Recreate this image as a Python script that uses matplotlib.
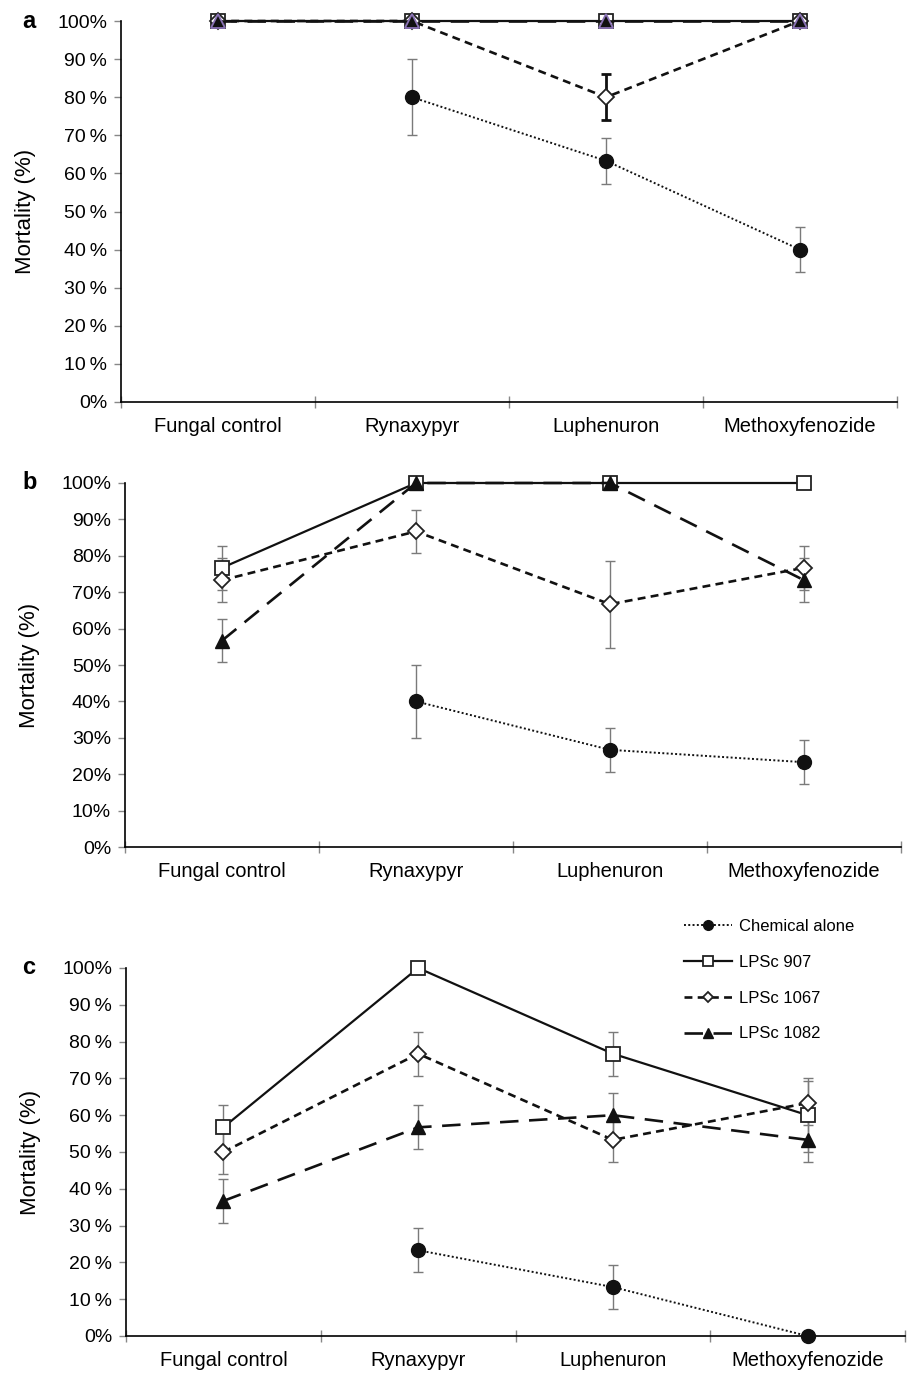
import matplotlib
matplotlib.use("Agg")
import matplotlib.pyplot as plt
import numpy as np

plt.rcParams['font.family'] = ['Liberation Sans', 'DejaVu Sans']

categorias = ['Fungal control', 'Rynaxypyr', 'Luphenuron', 'Methoxyfenozide']
series = ['Chemical alone', 'LPSc 907', 'LPSc 1067', 'LPSc 1082']
nan = np.nan

# Panel a (mortalidad %, error %)
a_chem = [nan, 80, 63.3, 40]
a_chem_err = [0, 10, 6, 6]
a_907 = [100, 100, 100, 100]
a_907_err = [0, 0, 0, 0]
a_1067 = [100, 100, 80, 100]
a_1067_err = [0, 0, 6, 0]
a_1082 = [100, 100, 100, 100]
a_1082_err = [0, 0, 0, 0]

# Panel b
b_chem = [nan, 40, 26.7, 23.3]
b_chem_err = [0, 10, 6, 6]
b_907 = [76.7, 100, 100, 100]
b_907_err = [6, 0, 0, 0]
b_1067 = [73.3, 86.7, 66.7, 76.7]
b_1067_err = [6, 6, 12, 6]
b_1082 = [56.7, 100, 100, 73.3]
b_1082_err = [6, 0, 0, 6]

# Panel c
c_chem = [nan, 23.3, 13.3, 0]
c_chem_err = [0, 6, 6, 0]
c_907 = [56.7, 100, 76.7, 60]
c_907_err = [6, 0, 6, 10]
c_1067 = [50, 76.7, 53.3, 63.3]
c_1067_err = [6, 6, 6, 6]
c_1082 = [36.7, 56.7, 60, 53.3]
c_1082_err = [6, 6, 6, 6]

etiquetas_y_ac = ['0%'] + [f'{v}\u2009%' for v in range(10, 100, 10)] + ['100%']
etiquetas_y_b = [f'{v}%' for v in range(0, 101, 10)]

paneles = [
    ('a', [a_chem, a_907, a_1067, a_1082], [a_chem_err, a_907_err, a_1067_err, a_1082_err], etiquetas_y_ac, (121, 897, 21, 402)),
    ('b', [b_chem, b_907, b_1067, b_1082], [b_chem_err, b_907_err, b_1067_err, b_1082_err], etiquetas_y_b, (125, 901, 483, 847)),
    ('c', [c_chem, c_907, c_1067, c_1082], [c_chem_err, c_907_err, c_1067_err, c_1082_err], etiquetas_y_ac, (126, 905, 968, 1336)),
]

# estilos de cada serie
estilos = [
    dict(linestyle=(0, (1, 1.2)), linewidth=1.4, marker='o', markersize=10, markerfacecolor='#111111', markeredgecolor='#111111'),
    dict(linestyle='-', linewidth=1.6, marker='s', markersize=9.5, markerfacecolor='white', markeredgecolor='#222222', markeredgewidth=1.3),
    dict(linestyle=(0, (3, 2)), linewidth=1.9, marker='D', markersize=7.8, markerfacecolor='white', markeredgecolor='#222222', markeredgewidth=1.3),
    dict(linestyle=(0, (7, 4)), linewidth=1.9, marker='^', markersize=10, markerfacecolor='#111111', markeredgecolor='#111111'),
]

W, H = 907, 1373
fig = plt.figure(figsize=(W / 100, H / 100), dpi=100)
x = np.arange(1, 5)
handles = []

for letra, datos, errores, etiquetas_y, (x0, x1, ytop, ybot) in paneles:
    ax = fig.add_axes([x0 / W, 1 - ybot / H, (x1 - x0) / W, (ybot - ytop) / H])
    for i, (y, e) in enumerate(zip(datos, errores)):
        y = np.array(y, dtype=float)
        e = np.array(e, dtype=float)
        st = dict(estilos[i])
        if letra == 'a' and i == 3:
            st['markeredgecolor'] = '#8a72b5'
            st['markeredgewidth'] = 1.3
        # barras de error
        for xi, yi, ei in zip(x, y, e):
            if ei > 0 and not np.isnan(yi):
                bold = (letra == 'a' and i == 2)
                ax.errorbar(xi, yi, yerr=ei, fmt='none', ecolor='#111111' if bold else '#7a7a7a',
                            elinewidth=2.0 if bold else 1.0, capsize=3.3, capthick=2.0 if bold else 1.0,
                            zorder=2, clip_on=False)
        l, = ax.plot(x, y, color='#111111', zorder=3 + i, clip_on=False, **st)
        if letra == 'c':
            handles.append(l)
    ax.set_xlim(0.5, 4.5)
    ax.set_ylim(0, 100)
    ax.set_yticks(range(0, 101, 10))
    ax.set_yticklabels(etiquetas_y, fontsize=14)
    ax.set_xticks([0.5, 1.5, 2.5, 3.5, 4.5])
    ax.set_xticklabels([])
    ax.set_xticks(x, minor=True)
    ax.set_xticklabels(categorias, minor=True, fontsize=14.5)
    ax.tick_params(axis='x', which='major', direction='inout', length=9, color='#888888', width=1)
    ax.tick_params(axis='x', which='minor', length=0, pad=11)
    ax.tick_params(axis='y', direction='out', length=5, color='#888888', width=1, pad=5)
    ax.spines['top'].set_visible(False)
    ax.spines['right'].set_visible(False)
    ax.spines['left'].set_linewidth(1.2)
    ax.spines['bottom'].set_linewidth(1.2)
    ax.set_ylabel('Mortality (%)', fontsize=16)
    ax.yaxis.set_label_coords(-0.109, 0.5)
    fig.text(22 / W, 1 - ytop / H, letra, fontsize=17, fontweight='bold', ha='left', va='center')

fig.legend(handles, series, loc='upper left', bbox_to_anchor=(684 / W, 1 - 919 / H),
           frameon=False, fontsize=12, handlelength=2.9, handletextpad=0.4,
           labelspacing=1.25, borderpad=0, borderaxespad=0, markerscale=0.7)

fig.savefig('out.png', dpi=100)
